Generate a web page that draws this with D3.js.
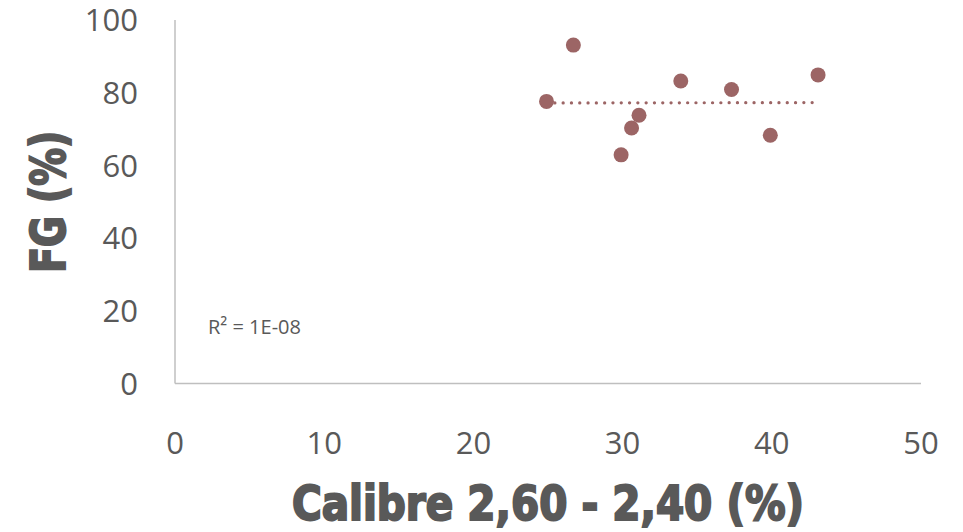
<!DOCTYPE html>
<html>
<head>
<meta charset="utf-8">
<script src="https://cdn.jsdelivr.net/npm/d3@7"></script>
<style>
body { margin: 0; background: #fff; }
.title { font-family: "DejaVu Sans", sans-serif; font-stretch: condensed; font-weight: bold; }
</style>
</head>
<body>
<div id="chart"></div>
<script>
// values
var calibre = [24.9, 26.7, 29.9, 30.6, 31.1, 33.9, 37.3, 39.9, 43.1];
var fg = [77.6, 93.1, 62.9, 70.3, 73.8, 83.2, 80.9, 68.3, 84.9];
var xTicks = [0, 10, 20, 30, 40, 50];
var yTicks = [0, 20, 40, 60, 80, 100];
var r2Label = "R² = 1E-08";

var width = 963, height = 532;
var svg = d3.select("#chart")
.append("svg")
.attr("width", width)
.attr("height", height)

var x = d3.scaleLinear().domain([0, 50]).range([175, 921])
var y = d3.scaleLinear().domain([0, 100]).range([383.5, 20])

var textColor = "#595959";
var dotColor = "#9c6565";

// axis lines
svg.append("line")
.attr("x1", x(0)).attr("x2", x(0))
.attr("y1", y(100)).attr("y2", y(0))
.attr("stroke", "#bfbfbf").attr("stroke-width", 1.5)

svg.append("line")
.attr("x1", x(0)).attr("x2", x(50))
.attr("y1", y(0)).attr("y2", y(0))
.attr("stroke", "#bfbfbf").attr("stroke-width", 1.5)

// tick labels
svg.selectAll(".xtick")
.data(xTicks)
.enter().append("text")
.attr("class", "xtick")
.attr("x", function(d){ return x(d) })
.attr("y", y(0) + 70)
.attr("text-anchor", "middle")
.attr("font-family", "Open Sans")
.attr("font-size", 31)
.attr("fill", textColor)
.text(function(d){ return d })

svg.selectAll(".ytick")
.data(yTicks)
.enter().append("text")
.attr("class", "ytick")
.attr("x", 138)
.attr("y", function(d){ return y(d) })
.attr("dy", "0.36em")
.attr("text-anchor", "end")
.attr("font-family", "Open Sans")
.attr("font-size", 31)
.attr("fill", textColor)
.text(function(d){ return d })

// linear trendline (least squares)
var pts = calibre.map(function(c, i){ return {x: c, y: fg[i]} })
var mx = d3.mean(pts, function(d){ return d.x })
var my = d3.mean(pts, function(d){ return d.y })
var sxy = d3.sum(pts, function(d){ return (d.x - mx) * (d.y - my) })
var sxx = d3.sum(pts, function(d){ return (d.x - mx) * (d.x - mx) })
var slope = sxy / sxx
var x0 = d3.min(calibre), x1 = d3.max(calibre)

svg.append("line")
.attr("x1", x(x0)).attr("x2", x(x1))
.attr("y1", y(my + slope * (x0 - mx)))
.attr("y2", y(my + slope * (x1 - mx)))
.attr("stroke", dotColor)
.attr("stroke-width", 3.2)
.attr("stroke-linecap", "round")
.attr("stroke-dasharray", "0.1 8.2")

// points
svg.selectAll(".pt")
.data(pts)
.enter().append("circle")
.attr("class", "pt")
.attr("cx", function(d){ return x(d.x) })
.attr("cy", function(d){ return y(d.y) })
.attr("r", 7.5)
.attr("fill", dotColor)

// R squared label
svg.append("text")
.attr("x", 208)
.attr("y", 334)
.attr("font-family", "Open Sans")
.attr("font-size", 20)
.attr("fill", textColor)
.text(r2Label)

// axis titles (heavy condensed look: bold + matching stroke)
svg.append("text")
.attr("class", "title")
.attr("x", (x(0) + x(50)) / 2)
.attr("y", 520)
.attr("text-anchor", "middle")
.attr("font-size", 48)
.attr("textLength", 512)
.attr("lengthAdjust", "spacingAndGlyphs")
.attr("fill", textColor)
.attr("stroke", textColor)
.attr("stroke-width", 2)
.text("Calibre 2,60 - 2,40 (%)")

svg.append("text")
.attr("class", "title")
.attr("transform", "translate(65," + (y(0) + y(100)) / 2 + ") rotate(-90)")
.attr("text-anchor", "middle")
.attr("font-size", 48)
.attr("textLength", 142)
.attr("lengthAdjust", "spacingAndGlyphs")
.attr("fill", textColor)
.attr("stroke", textColor)
.attr("stroke-width", 2)
.text("FG (%)")
</script>
</body>
</html>
